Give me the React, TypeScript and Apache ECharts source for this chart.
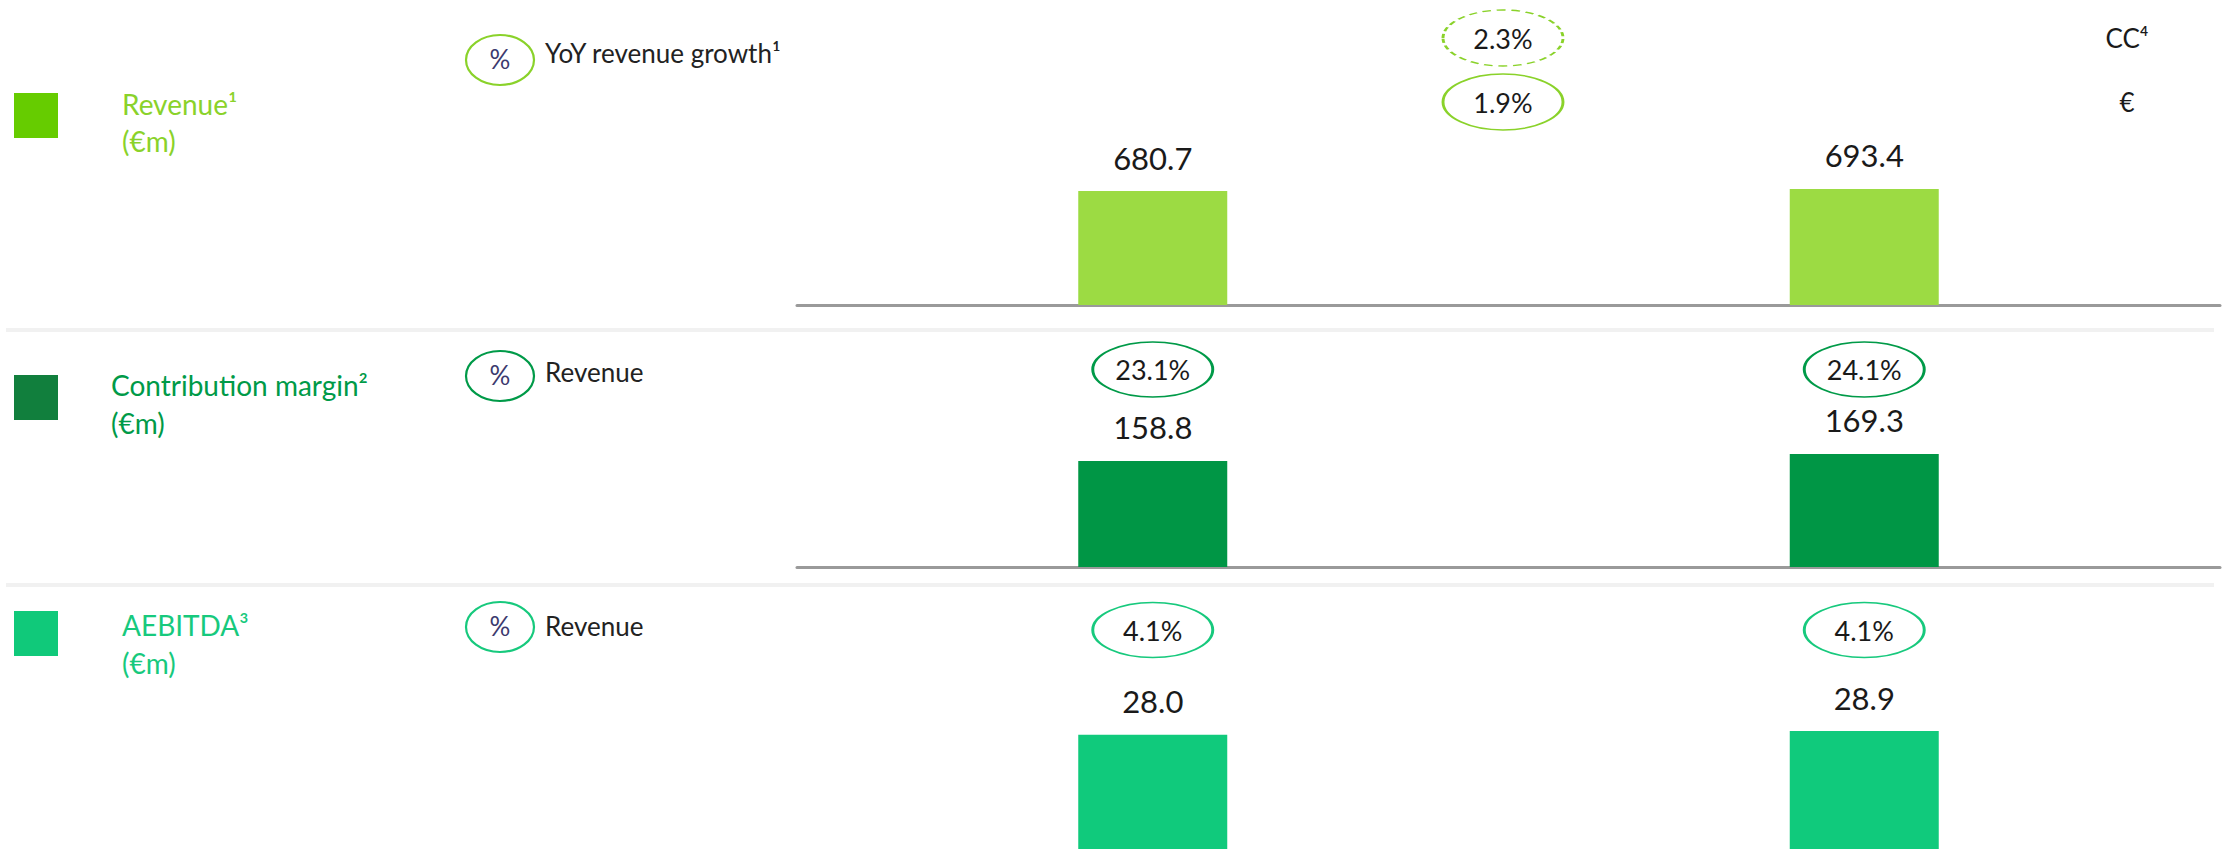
import React, { useEffect, useRef } from "react";
import * as echarts from "echarts";

// ---- data ----
const periods = ["Prior period", "Current period"];
const revenue = [680.7, 693.4];
const contributionMargin = [158.8, 169.3];
const aebitda = [28.0, 28.9];
const contributionMarginPct = [23.1, 24.1];
const aebitdaMarginPct = [4.1, 4.1];
const growthBases = ["€", "CC⁴"];
const revenueGrowthPct = [1.9, 2.3];
const growthCategory = ["YoY"];
const marginRow = ["% of revenue"];

const FONT = "Lato, 'Open Sans', sans-serif";
const ELLIPSE =
  "path://M0,1 C0,0.4477 0.4477,0 1,0 C1.5523,0 2,0.4477 2,1 C2,1.5523 1.5523,2 1,2 C0.4477,2 0,1.5523 0,1 Z";

const COL = {
  revSquare: "#66CC00",
  revBar: "#9CDB43",
  revText: "#8AD22A",
  cmSquare: "#117F3D",
  cmBar: "#009645",
  cmText: "#009A48",
  aeSquare: "#10C97A",
  aeBar: "#10CA7C",
  aeText: "#17C97D",
  axis: "#9a9a9a",
  sep: "#f1f1f1",
  ink: "#1a1a1a",
  pct: "#3C3A6E",
};

export default function App() {
  const ref = useRef<HTMLDivElement>(null);

  useEffect(() => {
    if (!ref.current) return;
    const chart = echarts.init(ref.current, undefined, { renderer: "svg" });

    const barX = (gi: number, showLine: boolean) => ({
      gridIndex: gi,
      type: "category",
      data: periods,
      axisTick: { show: false },
      axisLabel: { show: false },
      axisLine: { show: showLine, lineStyle: { color: COL.axis, width: 3 } },
    });
    const hiddenCatX = (gi: number, data: string[]) => ({
      gridIndex: gi,
      type: "category",
      data,
      show: false,
    });
    const valY = (gi: number, max: number) => ({
      gridIndex: gi,
      type: "value",
      min: 0,
      max,
      show: false,
    });
    const hiddenCatY = (gi: number, data: string[]) => ({
      gridIndex: gi,
      type: "category",
      data,
      show: false,
    });

    const barSeries = (gi: number, data: number[], color: string) => ({
      type: "bar",
      xAxisIndex: gi,
      yAxisIndex: gi,
      data,
      barWidth: 149,
      itemStyle: { color },
      silent: true,
      label: {
        show: true,
        position: "top",
        distance: 18,
        fontSize: 31,
        fontFamily: FONT,
        color: COL.ink,
        formatter: (p: any) => Number(p.value).toFixed(1),
      },
    });

    const pctSeries = (gi: number, pct: number[], border: string) => ({
      type: "scatter",
      xAxisIndex: gi,
      yAxisIndex: gi,
      symbol: ELLIPSE,
      symbolSize: [120, 55],
      clip: false,
      silent: true,
      data: periods.map((p, i) => [p, marginRow[0], pct[i]]),
      itemStyle: { color: "#ffffff", borderColor: border, borderWidth: 2, opacity: 1 },
      label: {
        show: true,
        position: "inside",
        fontSize: 27,
        fontFamily: FONT,
        color: COL.ink,
        formatter: (p: any) => Number(p.value[2]).toFixed(1) + "%",
      },
    });

    const squares = [
      { y: 93, color: COL.revSquare },
      { y: 375, color: COL.cmSquare },
      { y: 611, color: COL.aeSquare },
    ];
    const titles = [
      { x: 122, y1: 104, y2: 141, main: "Revenue¹", color: COL.revText },
      { x: 111, y1: 385, y2: 423, main: "Contribution margin²", color: COL.cmText },
      { x: 122, y1: 625, y2: 663, main: "AEBITDA³", color: COL.aeText },
    ];
    const legends = [
      { cy: 60, ty: 53, text: "YoY revenue growth¹", color: COL.revText },
      { cy: 376, ty: 372, text: "Revenue", color: COL.cmText },
      { cy: 627, ty: 626, text: "Revenue", color: COL.aeText },
    ];

    const graphic: any[] = [];
    [330, 585].forEach((y) =>
      graphic.push({
        type: "rect",
        silent: true,
        shape: { x: 6, y: y - 2, width: 2208, height: 4 },
        style: { fill: COL.sep },
      })
    );
    squares.forEach((s) =>
      graphic.push({
        type: "rect",
        silent: true,
        shape: { x: 14, y: s.y, width: 44, height: 45 },
        style: { fill: s.color },
      })
    );
    titles.forEach((t) => {
      graphic.push({
        type: "text",
        silent: true,
        x: t.x,
        y: t.y1,
        style: {
          text: t.main,
          fill: t.color,
          fontSize: 28,
          fontFamily: FONT,
          align: "left",
          verticalAlign: "middle",
        },
      });
      graphic.push({
        type: "text",
        silent: true,
        x: t.x,
        y: t.y2,
        style: {
          text: "(€m)",
          fill: t.color,
          fontSize: 28,
          fontFamily: FONT,
          align: "left",
          verticalAlign: "middle",
        },
      });
    });
    legends.forEach((l) => {
      graphic.push({
        type: "ellipse",
        silent: true,
        shape: { cx: 500, cy: l.cy, rx: 34, ry: 25 },
        style: { fill: "#ffffff", stroke: l.color, lineWidth: 2.2 },
      });
      graphic.push({
        type: "text",
        silent: true,
        x: 500,
        y: l.cy - 1,
        style: {
          text: "%",
          fill: COL.pct,
          fontSize: 26,
          fontFamily: FONT,
          align: "center",
          verticalAlign: "middle",
        },
      });
      graphic.push({
        type: "text",
        silent: true,
        x: 545,
        y: l.ty,
        style: {
          text: l.text,
          fill: "#222222",
          fontSize: 26,
          fontFamily: FONT,
          align: "left",
          verticalAlign: "middle",
        },
      });
    });

    const option: any = {
      animation: false,
      backgroundColor: "#ffffff",
      textStyle: { fontFamily: FONT },
      grid: [
        { left: 797, right: 4, top: 100, height: 205 }, // 0 revenue bars
        { left: 797, right: 15, top: 6, height: 128 }, // 1 growth ellipses
        { left: 797, right: 4, top: 340, height: 227 }, // 2 contribution margin bars
        { left: 797, right: 4, top: 342, height: 55 }, // 3 CM % ellipses
        { left: 797, right: 4, top: 600, bottom: 0 }, // 4 AEBITDA bars (baseline at page edge)
        { left: 797, right: 4, top: 602, height: 56 }, // 5 AEBITDA % ellipses
      ],
      xAxis: [
        barX(0, true),
        hiddenCatX(1, growthCategory),
        barX(2, true),
        hiddenCatX(3, periods),
        barX(4, false),
        hiddenCatX(5, periods),
      ],
      yAxis: [
        valY(0, 1225),
        {
          gridIndex: 1,
          type: "category",
          data: growthBases,
          position: "right",
          axisLine: { show: false },
          axisTick: { show: false },
          splitLine: { show: false },
          axisLabel: {
            show: true,
            margin: -82,
            align: "center",
            fontSize: 26,
            fontFamily: FONT,
            color: COL.ink,
          },
        },
        valY(2, 340),
        hiddenCatY(3, marginRow),
        valY(4, 61),
        hiddenCatY(5, marginRow),
      ],
      series: [
        barSeries(0, revenue, COL.revBar),
        {
          type: "scatter",
          xAxisIndex: 1,
          yAxisIndex: 1,
          symbol: ELLIPSE,
          symbolSize: [120, 56],
          clip: false,
          silent: true,
          data: growthBases.map((b, i) => ({
            value: [growthCategory[0], b, revenueGrowthPct[i]],
            itemStyle: {
              color: "#ffffff",
              borderColor: COL.revText,
              borderWidth: 2,
              borderType: i === 0 ? "solid" : [6, 4],
              opacity: 1,
            },
          })),
          label: {
            show: true,
            position: "inside",
            fontSize: 27,
            fontFamily: FONT,
            color: COL.ink,
            formatter: (p: any) => Number(p.value[2]).toFixed(1) + "%",
          },
        },
        barSeries(2, contributionMargin, COL.cmBar),
        pctSeries(3, contributionMarginPct, COL.cmText),
        barSeries(4, aebitda, COL.aeBar),
        pctSeries(5, aebitdaMarginPct, COL.aeText),
      ],
      graphic,
    };

    chart.setOption(option);
    return () => chart.dispose();
  }, []);

  return (
    <div
      ref={ref}
      style={{ position: "absolute", left: 0, top: 0, width: 2224, height: 849 }}
    />
  );
}
